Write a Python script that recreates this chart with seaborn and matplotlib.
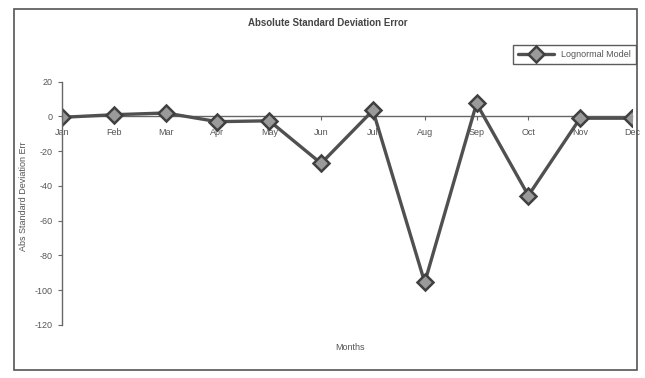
import matplotlib
matplotlib.use("Agg")
import matplotlib.pyplot as plt
import seaborn as sns
import pandas as pd
from matplotlib.patches import Rectangle

months = ["Jan", "Feb", "Mar", "Apr", "May", "Jun", "Jul", "Aug", "Sep", "Oct", "Nov", "Dec"]
errors = [-0.5, 1, 2, -3, -2.5, -27, 3.5, -95.5, 7.5, -45.5, -1, -1]
yticks = [20, 0, -20, -40, -60, -80, -100, -120]
series_name = "Lognormal Model"

sns.set_style("white")
plt.rcParams['font.family'] = ['Liberation Sans', 'DejaVu Sans']

df = pd.DataFrame({"idx": range(len(months)), "err": errors, "model": series_name})

fig = plt.figure(figsize=(6.45, 3.78), dpi=100)
fig.patch.set_facecolor("white")
fig.patches.append(Rectangle((14/645, 1-370/378), 623/645, 361/378, transform=fig.transFigure,
                             fill=False, edgecolor="#555555", linewidth=1.2, zorder=0))

ax = fig.add_axes([62/645, 1-325/378, (632-62)/645, (325-81.7)/378])
ax.set_facecolor("none")

sns.lineplot(data=df, x="idx", y="err", hue="model", palette=["#505050"], marker="D",
             markersize=8, markerfacecolor="#9a9a9a", markeredgecolor="#404040",
             markeredgewidth=1.8, linewidth=2.4, ax=ax, legend=True)

ax.set_xlim(0, len(months) - 1)
ax.set_ylim(-120, 20)
ax.set_yticks(yticks)
ax.set_yticklabels([str(t) for t in yticks])
ax.set_xticks(range(len(months)))
ax.set_xticklabels(months)

for s in ["top", "right"]:
    ax.spines[s].set_visible(False)
ax.spines["bottom"].set_position(("data", 0))
ax.spines["bottom"].set_color("#666666")
ax.spines["bottom"].set_linewidth(1.0)
ax.spines["left"].set_color("#666666")
ax.spines["left"].set_linewidth(1.0)
ax.spines["bottom"].set_zorder(1)

ax.tick_params(axis="both", which="both", length=3, width=0.8, color="#666666",
               labelsize=6.5, labelcolor="#555555", direction="out", left=True, bottom=True)
ax.tick_params(axis="x", pad=5)

ax.set_xlabel("")
ax.set_ylabel("Abs Standard Deviation Err", fontsize=6.5, color="#555555")
ax.yaxis.set_label_coords(-34/570, (325-196)/(325-81.7))
fig.text(350/645, 1-348/378, "Months", fontsize=6.5, color="#555555", ha="center", va="center")
fig.text(328/645, 1-23/378, "Absolute Standard Deviation Error", fontsize=7, fontweight="bold",
         color="#444444", ha="center", va="center")

leg = ax.legend(loc="upper right", bbox_to_anchor=(636/645, 1-45/378), bbox_transform=fig.transFigure,
                frameon=True, fancybox=False, fontsize=6.5, handlelength=4, borderpad=0.55,
                borderaxespad=0)
leg.get_frame().set_edgecolor("#333333")
leg.get_frame().set_linewidth(1.0)
for t in leg.get_texts():
    t.set_color("#555555")

fig.savefig("out.png", dpi=100)
